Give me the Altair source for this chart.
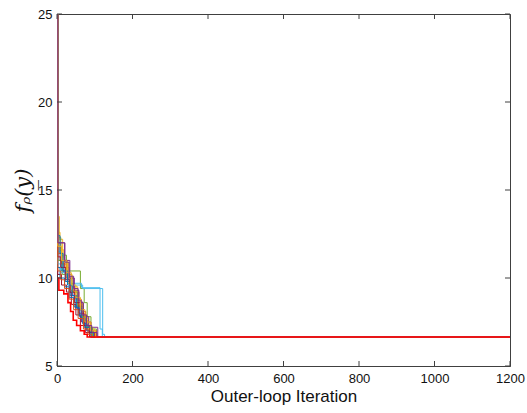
import altair as alt
import pandas as pd

# Step breakpoints per run: iterations and best objective values
run_iters = [
    [0, 2, 12, 22, 35, 48, 60, 72, 85, 98],
    [0, 2, 10, 20, 32, 45, 58, 70, 82, 95],
    [0, 2, 6, 15, 28, 40, 55, 68, 80, 92],
    [0, 2, 8, 18, 30, 42, 55, 65, 78, 90],
    [0, 2, 10, 25, 62, 72, 80, 90, 105],
    [0, 2, 10, 25, 40, 65, 114, 120],
    [0, 2, 12, 25, 38, 50, 62, 75, 86],
    [0, 2, 8, 20, 32, 44, 56, 68, 80, 96],
    [0, 2, 12, 24, 36, 50, 64, 76, 90, 104],
    [0, 2, 8, 18, 30, 42, 56, 70, 84, 100],
    [0, 2, 20, 34, 46, 58, 70, 84, 108],
    [0, 2, 14, 28, 40, 54, 66, 78, 94],
    [0, 2, 10, 22, 36, 68, 121, 126],
    [0, 2, 10, 22, 34, 46, 58, 72, 86, 100],
    [0, 2, 8, 16, 28, 40, 52, 64, 76, 90],
    [0, 2, 10, 20, 32, 44, 56, 70, 82, 92],
    [0, 2, 12, 26, 38, 50, 62, 74, 88, 102],
    [0, 2, 21, 32, 44, 56, 66, 78, 92, 106],
]
run_values = [
    [40, 11.0, 10.4, 9.8, 9.0, 8.3, 7.8, 7.2, 6.9, 6.65],
    [40, 12.0, 11.2, 10.6, 9.7, 9.2, 8.4, 7.6, 7.0, 6.65],
    [40, 13.5, 12.2, 11.0, 10.2, 9.5, 8.6, 7.9, 7.2, 6.65],
    [40, 11.8, 11.0, 10.3, 9.9, 9.0, 8.2, 7.5, 7.0, 6.65],
    [40, 12.3, 11.3, 10.4, 9.4, 8.6, 7.8, 7.1, 6.65],
    [40, 11.5, 10.5, 10.0, 9.7, 9.45, 7.1, 6.65],
    [40, 10.2, 9.6, 9.2, 8.5, 7.9, 7.3, 6.9, 6.65],
    [40, 10.6, 10.0, 9.5, 8.9, 8.4, 7.9, 7.4, 7.0, 6.65],
    [40, 11.4, 10.8, 10.0, 9.3, 8.8, 8.1, 7.5, 7.0, 6.65],
    [40, 12.6, 11.6, 10.9, 10.1, 9.2, 8.5, 7.7, 7.1, 6.65],
    [40, 12.0, 11.0, 10.0, 9.3, 8.6, 7.8, 7.2, 6.65],
    [40, 11.0, 10.2, 9.7, 9.2, 8.4, 7.8, 7.2, 6.65],
    [40, 10.8, 10.3, 9.9, 9.6, 9.4, 6.8, 6.65],
    [40, 11.2, 10.6, 9.9, 9.2, 8.6, 8.0, 7.3, 6.9, 6.65],
    [40, 12.4, 11.4, 10.4, 9.6, 9.0, 8.3, 7.7, 7.2, 6.65],
    [40, 10.4, 9.9, 9.4, 8.8, 8.2, 7.7, 7.1, 6.8, 6.65],
    [40, 11.8, 11.0, 10.3, 9.6, 8.9, 8.2, 7.5, 7.0, 6.65],
    [40, 12.0, 10.9, 10.1, 9.4, 8.7, 7.9, 7.3, 6.9, 6.65],
]
red_iters = [1, 5, 18, 29, 36, 43, 52, 62, 72, 80]
red_values = [10.0, 9.3, 9.1, 8.6, 8.1, 7.6, 7.3, 7.0, 6.8, 6.65]

last_iter = 1200
final_value = 6.65

matlab_colors = ["#0072BD", "#D95319", "#EDB120", "#7E2F8E", "#77AC30", "#4DBEEE", "#A2142F"]

x_ticks = [0, 200, 400, 600, 800, 1000, 1200]
y_ticks = [5, 10, 15, 20, 25]

rows = []
names = []
for i, (its, vals) in enumerate(zip(run_iters, run_values)):
    name = f"r{i:02d}"
    names.append(name)
    for it, v in zip(its, vals):
        rows.append({"run": name, "iter": it, "f": v})
    rows.append({"run": name, "iter": last_iter, "f": final_value})
df = pd.DataFrame(rows)

red_df = pd.DataFrame({"iter": red_iters + [last_iter], "f": red_values + [final_value]})

W, H = 453, 352
AX = "#404040"

xs = alt.Scale(domain=[0, 1200], nice=False, zero=False)
ys = alt.Scale(domain=[5, 25], nice=False, zero=False)

lines = alt.Chart(df).mark_line(interpolate="step-after", clip=True, strokeWidth=1).encode(
    x=alt.X("iter:Q", scale=xs,
            axis=alt.Axis(values=x_ticks, ticks=False, grid=False, title="Outer-loop Iteration",
                          labelFontSize=13, labelPadding=6, titleFontSize=17, titleFontWeight="normal",
                          titlePadding=3, domainColor=AX, labelColor="#111", titleColor="#111",
                          labelFont="Liberation Sans", titleFont="Liberation Sans", format="d",
                          labelFlush=False, labelOverlap=False)),
    y=alt.Y("f:Q", scale=ys,
            axis=alt.Axis(values=y_ticks, ticks=False, grid=False, title="fᵨ(y̲)",
                          labelFontSize=13, labelPadding=5, titleFontSize=21, titleFontWeight="normal",
                          titleFont="DejaVu Serif", titleFontStyle="italic", titlePadding=4,
                          domainColor=AX, labelColor="#111", titleColor="#111",
                          labelFont="Liberation Sans", labelFlush=False, labelOverlap=False)),
    color=alt.Color("run:N", scale=alt.Scale(domain=names,
                    range=[matlab_colors[i % 7] for i in range(len(names))]), legend=None),
    detail="run:N",
)

red = alt.Chart(red_df).mark_line(interpolate="step-after", clip=True, strokeWidth=1.6, color="#FF0000").encode(
    x=alt.X("iter:Q", scale=xs), y=alt.Y("f:Q", scale=ys)
)

xt = pd.DataFrame({"t": x_ticks})
yt = pd.DataFrame({"t": y_ticks})
tb = alt.Chart(xt).mark_rule(color=AX, strokeWidth=1).encode(
    x=alt.X("t:Q", scale=xs), y=alt.value(H), y2=alt.value(H - 5))
tt = alt.Chart(xt).mark_rule(color=AX, strokeWidth=1).encode(
    x=alt.X("t:Q", scale=xs), y=alt.value(0), y2=alt.value(5))
tl = alt.Chart(yt).mark_rule(color=AX, strokeWidth=1).encode(
    y=alt.Y("t:Q", scale=ys), x=alt.value(0), x2=alt.value(5))
tr = alt.Chart(yt).mark_rule(color=AX, strokeWidth=1).encode(
    y=alt.Y("t:Q", scale=ys), x=alt.value(W), x2=alt.value(W - 5))

chart = alt.layer(lines, red, tb, tt, tl, tr).properties(
    width=W, height=H,
    autosize=alt.AutoSizeParams(type="none"),
    padding={"left": 57, "top": 14, "right": 17, "bottom": 47},
).configure(background="white").configure_view(stroke=AX, strokeWidth=1)

chart.save("out.html", embed_options={"renderer": "svg", "actions": False})
